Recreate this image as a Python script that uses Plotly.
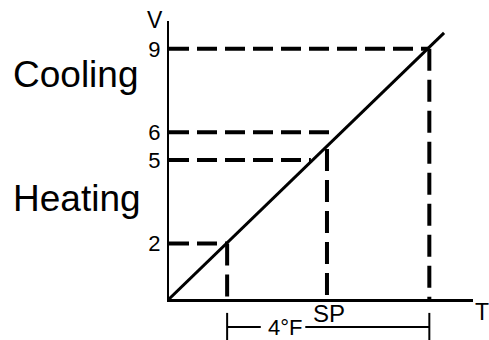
import plotly.graph_objects as go

# ---- data ----
v_ticks = [2, 5, 6, 9]
v_tick_text = ["2", "5", "6", "9"]

line_t = [0.0, 9.89]          # response line, temperature
line_v = [0.0, 9.57]          # response line, voltage

h_levels = [9, 6, 5, 2]               # horizontal dashed levels (V)
h_ends_t = [9.36, 6.0, 5.1, 2.09]     # where each horizontal dash stops (T)

v_pos_t = [2.09, 5.68, 9.36]          # vertical dashed positions (T)
v_tops = [2.0, 5.4, 9.0]              # where each vertical dash starts (V)

band_t = [2.09, 9.36]                 # 4°F band ends (T)

FONT = "Liberation Sans, Arial, Helvetica, sans-serif"

fig = go.Figure()

for lv, te in zip(h_levels, h_ends_t):
    fig.add_trace(go.Scatter(x=[0, te], y=[lv, lv], mode="lines",
                             line=dict(color="black", width=4, dash="20px,8px"),
                             hoverinfo="skip", showlegend=False))
for tp, top in zip(v_pos_t, v_tops):
    fig.add_trace(go.Scatter(x=[tp, tp], y=[top, 0], mode="lines",
                             line=dict(color="black", width=4, dash="22px,9px"),
                             hoverinfo="skip", showlegend=False))

fig.add_trace(go.Scatter(x=line_t, y=line_v, mode="lines",
                         line=dict(color="black", width=3),
                         hoverinfo="skip", showlegend=False))

# 4°F bracket below the axis
ybr = -0.1007
shape_line = dict(color="black", width=2)
fig.add_shape(type="line", xref="x", yref="paper", x0=band_t[0], x1=3.3, y0=ybr, y1=ybr, line=shape_line)
fig.add_shape(type="line", xref="x", yref="paper", x0=4.9, x1=band_t[1], y0=ybr, y1=ybr, line=shape_line)
for bt in band_t:
    fig.add_shape(type="line", xref="x", yref="paper", x0=bt, x1=bt, y0=-0.05, y1=-0.15, line=shape_line)

def ann(text, x, y, size):
    fig.add_annotation(text=text, x=x, y=y, xref="paper", yref="paper",
                       showarrow=False, xanchor="center", yanchor="middle",
                       font=dict(family=FONT, size=size, color="black"))

ann("V", -0.046, 1.004, 23)
ann("T", 1.0296, -0.0468, 23)
ann("SP", 0.526, -0.0504, 24)
ann("4°F", 0.3816, -0.1043, 22)
ann("Cooling", -0.306, 0.806, 37)
ann("Heating", -0.303, 0.36, 37)

fig.update_layout(
    width=489, height=340, autosize=False,
    margin=dict(l=169, r=16, t=21, b=41),
    paper_bgcolor="white", plot_bgcolor="white",
    font=dict(family=FONT, color="black"),
    xaxis=dict(range=[0, 10.93], showgrid=False, zeroline=False, showline=True,
               linecolor="black", linewidth=2.5, showticklabels=False, ticks="", fixedrange=True),
    yaxis=dict(range=[0, 10.0], showgrid=False, zeroline=False, showline=True,
               linecolor="black", linewidth=2, tickvals=v_ticks, ticktext=v_tick_text,
               ticks="", tickfont=dict(family=FONT, size=22, color="black"),
               ticklabelstandoff=2, fixedrange=True),
    hovermode=False,
)

fig.write_html("out.html", config={"displayModeBar": False, "staticPlot": True},
               post_script="document.body.style.margin='0';document.body.style.overflow='hidden';")
